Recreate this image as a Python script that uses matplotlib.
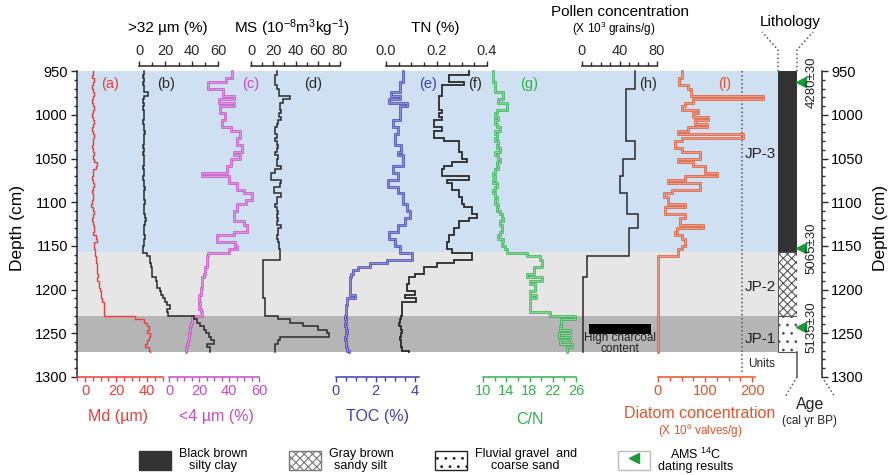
import matplotlib
matplotlib.use("Agg")
import matplotlib.pyplot as plt
import matplotlib.transforms as mtrans
from matplotlib.ticker import MultipleLocator, FixedLocator, FormatStrFormatter
from matplotlib.patches import Patch
from matplotlib.lines import Line2D
from matplotlib import patheffects as pe
from matplotlib.colors import to_rgb

plt.rcParams['font.family'] = ['Liberation Sans', 'DejaVu Sans']
plt.rcParams['mathtext.fontset'] = 'custom'
plt.rcParams['mathtext.rm'] = 'Liberation Sans'
plt.rcParams['mathtext.it'] = 'Liberation Sans:italic'
plt.rcParams['hatch.linewidth'] = 0.8

# ---------------- data ----------------
sample_depth_cm = [950, 954, 958, 962, 966, 970, 974, 978, 982, 986,
                   990, 994, 998, 1002, 1006, 1010, 1014, 1018, 1022, 1026,
                   1030, 1034, 1038, 1042, 1046, 1050, 1054, 1058, 1062, 1066,
                   1070, 1074, 1078, 1082, 1086, 1090, 1094, 1098, 1102, 1106,
                   1110, 1114, 1118, 1122, 1126, 1130, 1134, 1138, 1142, 1146,
                   1150, 1154, 1158, 1162, 1166, 1170, 1174, 1178, 1182, 1186,
                   1190, 1194, 1198, 1202, 1206, 1210, 1214, 1218, 1222, 1226,
                   1230, 1234, 1238, 1242, 1246, 1250, 1254, 1258, 1262, 1266, 1270]
core_bottom_cm = 1272

md_um = [5, 4.5, 5.5, 5, 4.5, 5, 6, 5, 4.5, 5, 5.5, 5, 4.5, 5, 5.5, 5, 4.5, 5, 5.5, 5,
         5, 4.5, 5, 5.5, 5, 6, 7.5, 7, 5, 5, 4.5, 5, 5.5, 5, 4.5, 5, 5, 4.5, 4, 5,
         5.5, 5, 4.5, 5, 5.5, 6, 5, 7, 7.5, 6, 5.5, 6.5,
         6.5, 7, 7, 7.5, 8, 8, 8.5, 8, 9, 9, 9.5, 10, 10, 11, 12, 12, 12, 12,
         32, 38, 40, 41, 40, 42, 41, 40, 39, 41, 42]
gt32_pct = [3.5, 3, 3.5, 3, 3.5, 4, 7, 3.5, 3, 3.5, 3, 3.5, 4, 3.5, 3, 3.5, 4, 4.5, 4, 3.5,
            3.5, 3, 3.5, 3, 3.5, 4, 3.5, 3, 3.5, 3.5, 3, 3.5, 4, 4.5, 4, 3.5, 4, 4.5, 4, 3.5,
            4, 4.5, 5, 4.5, 4, 3.5, 4, 4.5, 4, 3.5, 3, 3,
            6, 8, 8.5, 9, 9.5, 10, 10, 13, 13.5, 14, 16, 17, 18, 20, 21, 23.5, 21, 22,
            42, 44, 46, 49, 51, 53, 55, 57, 52, 54, 54]
lt4_pct = [42, 42, 38, 26, 26, 36, 36, 43, 33, 43, 34, 34, 37.5, 37.5, 35, 35, 41, 47.5, 47.5, 45,
           45, 48.5, 48.5, 43, 47.5, 41, 41, 38.5, 38.5, 22, 40, 40, 45, 45, 50, 55, 55, 51, 45, 45,
           43, 43, 43, 50, 52, 52, 43, 32, 32, 44, 45, 40,
           26, 25, 25, 25.5, 24, 24, 23, 22, 22, 22, 21.5, 21, 20, 20, 20.5, 20, 21, 22,
           15, 15, 14.5, 14, 14, 13.5, 13, 12.5, 12, 11.5, 11]
ms_si = [23, 22, 21.5, 22, 23, 25, 25, 35, 29, 26, 26, 27, 25, 27, 24, 23, 22, 22, 23, 22,
         23, 24, 23, 22, 24, 23, 23, 27, 22, 18, 18, 27, 26, 21, 21, 27, 23, 23, 22, 23,
         24, 23, 24, 23, 27, 24, 24, 23, 24, 25, 25, 26,
         26, 26, 10.5, 10.5, 10.5, 10.5, 10.5, 10.5, 11, 11, 10.5, 10.5, 11, 12.5, 12.5, 12.5, 12.5, 13,
         24, 35, 47, 60, 68, 70, 26, 24, 22, 22, 22]
toc_pct = [3.4, 3.4, 3.4, 3.25, 3.25, 3.25, 2.8, 3.25, 2.7, 3.6, 3.25, 3.25, 3.25, 3.25, 2.9, 2.9, 3.15, 3.15, 3.0, 3.0,
           3.0, 3.3, 3.3, 3.15, 3.4, 3.4, 3.4, 2.9, 2.9, 3.15, 3.15, 2.65, 2.65, 3.15, 3.15, 3.4, 3.4, 3.4, 3.6, 3.6,
           3.75, 3.75, 3.5, 3.5, 3.15, 3.15, 2.7, 2.7, 3.0, 3.0, 3.25, 3.25,
           3.83, 3.83, 2.6, 1.7, 1.1, 0.87, 0.75, 0.72, 0.7, 0.7, 0.72, 0.7, 0.95, 0.55, 0.55, 0.5, 0.5, 0.5,
           0.48, 0.5, 0.45, 0.5, 0.55, 0.5, 0.45, 0.5, 0.5, 0.55, 0.65]
tn_pct = [0.33, 0.25, 0.25, 0.31, 0.22, 0.22, 0.22, 0.21, 0.21, 0.21, 0.21, 0.22, 0.21, 0.22, 0.19, 0.19, 0.22, 0.19, 0.19, 0.23,
          0.29, 0.29, 0.29, 0.30, 0.30, 0.32, 0.26, 0.23, 0.22, 0.22, 0.33, 0.24, 0.26, 0.26, 0.29, 0.29, 0.30, 0.30, 0.31, 0.34,
          0.34, 0.36, 0.33, 0.29, 0.29, 0.27, 0.27, 0.25, 0.25, 0.24, 0.24, 0.26,
          0.34, 0.34, 0.27, 0.2, 0.15, 0.15, 0.115, 0.09, 0.09, 0.085, 0.085, 0.115, 0.075, 0.12, 0.065, 0.065, 0.065, 0.065,
          0.06, 0.055, 0.05, 0.06, 0.065, 0.06, 0.055, 0.06, 0.06, 0.065, 0.09]
cn_ratio = [11.8, 11.8, 11.8, 12.1, 12.1, 12.1, 13.5, 13.5, 12.6, 14.1, 14.1, 12.4, 12.1, 12.6, 12.1, 12.4, 12.9, 12.1, 12.4, 12.1,
            12.6, 12.4, 12.9, 12.1, 12.6, 12.9, 12.4, 12.6, 12.1, 11.8, 12.1, 11.8, 12.4, 12.1, 11.8, 12.1, 12.4, 12.1, 12.6, 12.4,
            12.9, 13.2, 13.5, 12.9, 13.2, 13.2, 12.9, 12.6, 13.5, 13.2, 13.8, 14.1,
            17.5, 19.8, 20.1, 20.1, 18.7, 18.7, 17.5, 20.1, 18.1, 18.9, 18.9, 18.1, 19.2, 18.1, 18.1, 18.1, 18.1, 21.5,
            25.8, 23.5, 23.5, 23.2, 25.0, 23.0, 25.0, 23.2, 25.3, 24.4, 24.4]
diatom_1e6 = [50, 50, 45, 45, 64, 71, 71, 224, 74, 57, 50, 85, 74, 106, 78, 103, 64, 43, 181, 50,
              36, 36, 50, 89, 89, 43, 74, 100, 100, 125, 57, 22, 89, 89, 29, 12, 22, 22, 57, 15,
              15, 57, 46, 46, 96, 40, 36, 50, 57, 57, 50, 43, 43,
              0, 0, 0, 0, 0, 0, 0, 0, 0, 0, 0, 0, 0, 0, 0, 0, 0, 0, 0, 0, 0, 0, 0, 0, 0, 0, 0, 0]
pollen_top_cm = [950, 970, 1030, 1050, 1070, 1090, 1114, 1130, 1162, 1186]
pollen_1e3 = [56, 47, 57, 44, 40, 48, 60, 50, 5, 1]

zone_top_cm = [950, 1157, 1230]
zone_bottom_cm = [1157, 1230, 1272]
zone_names = ['JP-3', 'JP-2', 'JP-1']
zone_label_depth = [1045, 1197, 1257]
lith_hatch = [None, 'xxxx', '..']
dating_depth_cm = [962, 1153, 1243]
dating_labels = ['4280\u00b130', '5065\u00b130', '5135\u00b130']
charcoal_depth_cm = (1240, 1251)

# ---------------- colours ----------------
C_MD = '#ee3b3b'
C_MAG = '#c84ac8'
C_BLK = '#2a2a2a'
C_TOC = '#3f3fb5'
C_CN = '#2fb34c'
C_DIA = '#e2542c'
C_GRN = '#1a9a3a'
zone_colors = ['#cfe0f3', '#e6e6e6', '#b5b5b5']

W, H = 894, 475
Y0, Y1 = 71.3, 376.8
fig = plt.figure(figsize=(W / 100, H / 100), dpi=100)


def px_axes(x0, x1):
    return fig.add_axes([x0 / W, 1 - Y1 / H, (x1 - x0) / W, (Y1 - Y0) / H])


def ft(x, y, s, **kw):
    fig.text(x / W, 1 - y / H, s, ha=kw.pop('ha', 'center'), va=kw.pop('va', 'center'), **kw)


def tint(c, f):
    r, g, b = to_rgb(c)
    return (r + (1 - r) * f, g + (1 - g) * f, b + (1 - b) * f)


# background / depth axis
ax_bg = px_axes(77, 822)
ax_bg.set_xlim(0, 1)
ax_bg.set_ylim(1300, 950)
shade_frac = (778 - 77) / 745
for t, b, c in zip(zone_top_cm, zone_bottom_cm, zone_colors):
    ax_bg.axhspan(t, b, xmin=0, xmax=shade_frac, color=c, lw=0, zorder=0)
ax_bg.set_xticks([])
ax_bg.spines['top'].set_visible(False)
ax_bg.spines['bottom'].set_visible(False)
for s in ('left', 'right'):
    ax_bg.spines[s].set_linewidth(1.1)
    ax_bg.spines[s].set_color(C_BLK)
ax_bg.yaxis.set_major_locator(MultipleLocator(50))
ax_bg.yaxis.set_minor_locator(MultipleLocator(10))
ax_bg.tick_params(axis='y', which='both', left=True, right=True, labelleft=True,
                  labelright=True, direction='out', labelsize=10.5, width=1, color=C_BLK, pad=2)
ax_bg.tick_params(axis='y', which='major', length=4.5)
ax_bg.tick_params(axis='y', which='minor', length=2.5)

btr = mtrans.blended_transform_factory(ax_bg.transAxes, ax_bg.transData)
units_x = (742 - 77) / 745
ax_bg.plot([units_x, units_x], [950, 1295], transform=btr, ls=':', color='#555555', lw=1.1, clip_on=False)
ax_bg.plot([1, 1.0174], [0, -0.066], transform=ax_bg.transAxes, ls=':', color='#555555', lw=1.1, clip_on=False)
for name, d in zip(zone_names, zone_label_depth):
    ax_bg.text((760 - 77) / 745, d, name, transform=btr, ha='center', va='center', fontsize=11, color='#222222')


def curve_axes(x0, x1, lim, side, color, major, minor, fmt=None):
    ax = px_axes(x0, x1)
    ax.set_xlim(*lim)
    ax.set_ylim(1300, 950)
    ax.patch.set_visible(False)
    for s in ax.spines.values():
        s.set_visible(False)
    ax.set_yticks([])
    sp = ax.spines[side]
    sp.set_visible(True)
    sp.set_color(color)
    sp.set_linewidth(1.1)
    if side == 'top':
        sp.set_position(('outward', 4))
    ax.xaxis.set_ticks_position(side)
    ax.xaxis.set_major_locator(FixedLocator(major))
    ax.xaxis.set_minor_locator(MultipleLocator(minor))
    if fmt:
        ax.xaxis.set_major_formatter(FormatStrFormatter(fmt))
    ax.tick_params(axis='x', which='both', direction='out', color=color, labelcolor=color,
                   width=1, labelsize=10.5, pad=2)
    ax.tick_params(axis='x', which='major', length=3.5)
    ax.tick_params(axis='x', which='minor', length=3)
    return ax


def profile(ax, tops, bottom, vals, color, hollow=False, lw=1.1):
    xs, ys = [], []
    for i, v in enumerate(vals):
        t = tops[i]
        b = tops[i + 1] if i + 1 < len(vals) else bottom
        xs += [v, v]
        ys += [t, b]
    if hollow:
        ax.plot(xs, ys, color=tint(color, 0.6), lw=0.5, clip_on=False, solid_joinstyle='miter',
                path_effects=[pe.Stroke(linewidth=1.8, foreground=color), pe.Normal()])
    else:
        ax.plot(xs, ys, color=color, lw=lw, clip_on=False, solid_joinstyle='miter')


ax_a = curve_axes(77, 163, (-5.2, 50.3), 'bottom', C_MD, [0, 20, 40], 5)
profile(ax_a, sample_depth_cm, core_bottom_cm, md_um, C_MD, lw=1.0)
ax_c = curve_axes(169, 259, (0, 60), 'bottom', C_MAG, [0, 20, 40, 60], 5)
profile(ax_c, sample_depth_cm, core_bottom_cm, lt4_pct, C_MAG, hollow=True)
ax_b = curve_axes(139, 218, (0, 60), 'top', C_BLK, [0, 20, 40, 60], 10)
profile(ax_b, sample_depth_cm, core_bottom_cm, gt32_pct, C_BLK)
ax_d = curve_axes(251, 340, (0, 80), 'top', C_BLK, [0, 20, 40, 60, 80], 10)
profile(ax_d, sample_depth_cm, core_bottom_cm, ms_si, C_BLK)
ax_e = curve_axes(336, 419, (0, 4.2), 'bottom', C_TOC, [0, 2, 4], 0.5)
profile(ax_e, sample_depth_cm, core_bottom_cm, toc_pct, C_TOC, hollow=True)
ax_f = curve_axes(386, 487, (0, 0.4), 'top', C_BLK, [0.0, 0.2, 0.4], 0.05, '%.1f')
profile(ax_f, sample_depth_cm, core_bottom_cm, tn_pct, C_BLK, lw=1.3)
ax_g = curve_axes(483, 576, (10, 26), 'bottom', C_CN, [10, 14, 18, 22, 26], 2)
profile(ax_g, sample_depth_cm, core_bottom_cm, cn_ratio, C_CN, hollow=True)
ax_h = curve_axes(582, 657, (0, 80), 'top', C_BLK, [0, 40, 80], 10)
profile(ax_h, pollen_top_cm, core_bottom_cm, pollen_1e3, C_BLK)
ax_i = curve_axes(658, 755, (0, 206), 'bottom', C_DIA, [0, 100, 200], 25)
profile(ax_i, sample_depth_cm, core_bottom_cm, diatom_1e6, C_DIA, hollow=True)

# charcoal marker
ax_h.axhspan(charcoal_depth_cm[0], charcoal_depth_cm[1], xmin=0.09, xmax=0.92, color='black', lw=0)
htr = mtrans.blended_transform_factory(ax_h.transAxes, ax_h.transData)
ax_h.text(0.5, 1262, 'High charcoal\ncontent', transform=htr, ha='center', va='center',
          fontsize=8.5, color='#222222', linespacing=0.85)

# lithology column
ax_l = px_axes(778, 797)
ax_l.set_xlim(0, 1)
ax_l.set_ylim(1300, 950)
ax_l.axis('off')
for t, b, h in zip(zone_top_cm, zone_bottom_cm, lith_hatch):
    if h is None:
        ax_l.axhspan(t, b, facecolor='#333333', edgecolor='#333333', lw=0.8)
    else:
        ax_l.axhspan(t, b, facecolor='white', edgecolor='#555555', hatch=h, lw=0.8)
ltr = mtrans.blended_transform_factory(ax_l.transAxes, ax_l.transData)
ax_l.plot([1, 1], [core_bottom_cm, 1300], transform=ltr, color='#555555', lw=1.1, clip_on=False)
ax_l.plot([0, 0, -0.84], [1, 1.07, 1.129], transform=ax_l.transAxes, ls=':', color='#555555', lw=1.1, clip_on=False)
ax_l.plot([1, 1, 1.84], [1, 1.07, 1.129], transform=ax_l.transAxes, ls=':', color='#555555', lw=1.1, clip_on=False)
ax_l.plot([1, 0.37], [0, -0.066], transform=ax_l.transAxes, ls=':', color='#555555', lw=1.1, clip_on=False)
ax_l.plot([1.2] * len(dating_depth_cm), dating_depth_cm, transform=ltr, ls='', marker='<',
          color=C_GRN, markersize=7, clip_on=False)
for d, lab in zip(dating_depth_cm, dating_labels):
    ax_l.text(1.75, d, lab, transform=ltr, rotation=90, ha='center', va='center', fontsize=9.5, color='#222222')

# ---------------- texts ----------------
ft(168, 28, '>32 \u00b5m (%)', fontsize=11)
ft(292, 28, 'MS (10$^{-8}$m$^{3}$kg$^{-1}$)', fontsize=11)
ft(435, 28, 'TN (%)', fontsize=11)
ft(620, 12, 'Pollen concentration', fontsize=11)
ft(614, 29, '(X 10$^{3}$ grains/g)', fontsize=8.5)
ft(790, 22, 'Lithology', fontsize=11)

panel = [('(a)', 110, C_MD), ('(b)', 166, C_BLK), ('(c)', 251, C_MAG), ('(d)', 313, C_BLK),
         ('(e)', 428, C_TOC), ('(f)', 475, C_BLK), ('(g)', 529, C_CN), ('(h)', 648, C_BLK),
         ('(l)', 725, C_DIA)]
for s, x, c in panel:
    ft(x, 84, s, fontsize=10.5, color=c)

ft(118, 416, 'Md (\u00b5m)', fontsize=11.5, color=C_MD)
ft(216, 416, '<4 \u00b5m (%)', fontsize=11.5, color=C_MAG)
ft(378, 416, 'TOC (%)', fontsize=11.5, color=C_TOC)
ft(530, 419, 'C/N', fontsize=11.5, color=C_CN)
ft(700, 413, 'Diatom concentration', fontsize=11.5, color=C_DIA)
ft(700, 431, '(X 10$^{6}$ valves/g)', fontsize=8.5, color=C_DIA)
ft(810, 405, 'Age', fontsize=11.5, color='#222222')
ft(810, 421, '(cal yr BP)', fontsize=8.5, color='#222222')
ft(762, 364, 'Units', fontsize=8.5, color='#222222')
ft(18, 228, 'Depth (cm)', fontsize=12.5, rotation=90)
ft(880, 228, 'Depth (cm)', fontsize=12.5, rotation=90)

# ---------------- legend ----------------
handles = [Patch(facecolor='#333333', edgecolor='#333333'),
           Patch(facecolor='white', edgecolor='#777777', hatch='xxxx'),
           Patch(facecolor='white', edgecolor='#222222', hatch='..'),
           (Patch(facecolor='white', edgecolor='#bbbbbb'),
            Line2D([], [], ls='', marker='<', color=C_GRN, markersize=7))]
labels = ['Black brown\nsilty clay', 'Gray brown\nsandy silt', 'Fluvial gravel  and\ncoarse sand',
          'AMS $^{14}$C\ndating results']
leg = fig.legend(handles, labels, loc='center', bbox_to_anchor=(436 / W, 1 - 460 / H), ncol=4,
                 frameon=False, fontsize=9, handlelength=2.6, handleheight=1.9,
                 handletextpad=0.6, columnspacing=3.3, labelspacing=0.2)
for t in leg.get_texts():
    t.set_multialignment('center')
    t.set_linespacing(0.95)

fig.savefig('out.png', dpi=100)
